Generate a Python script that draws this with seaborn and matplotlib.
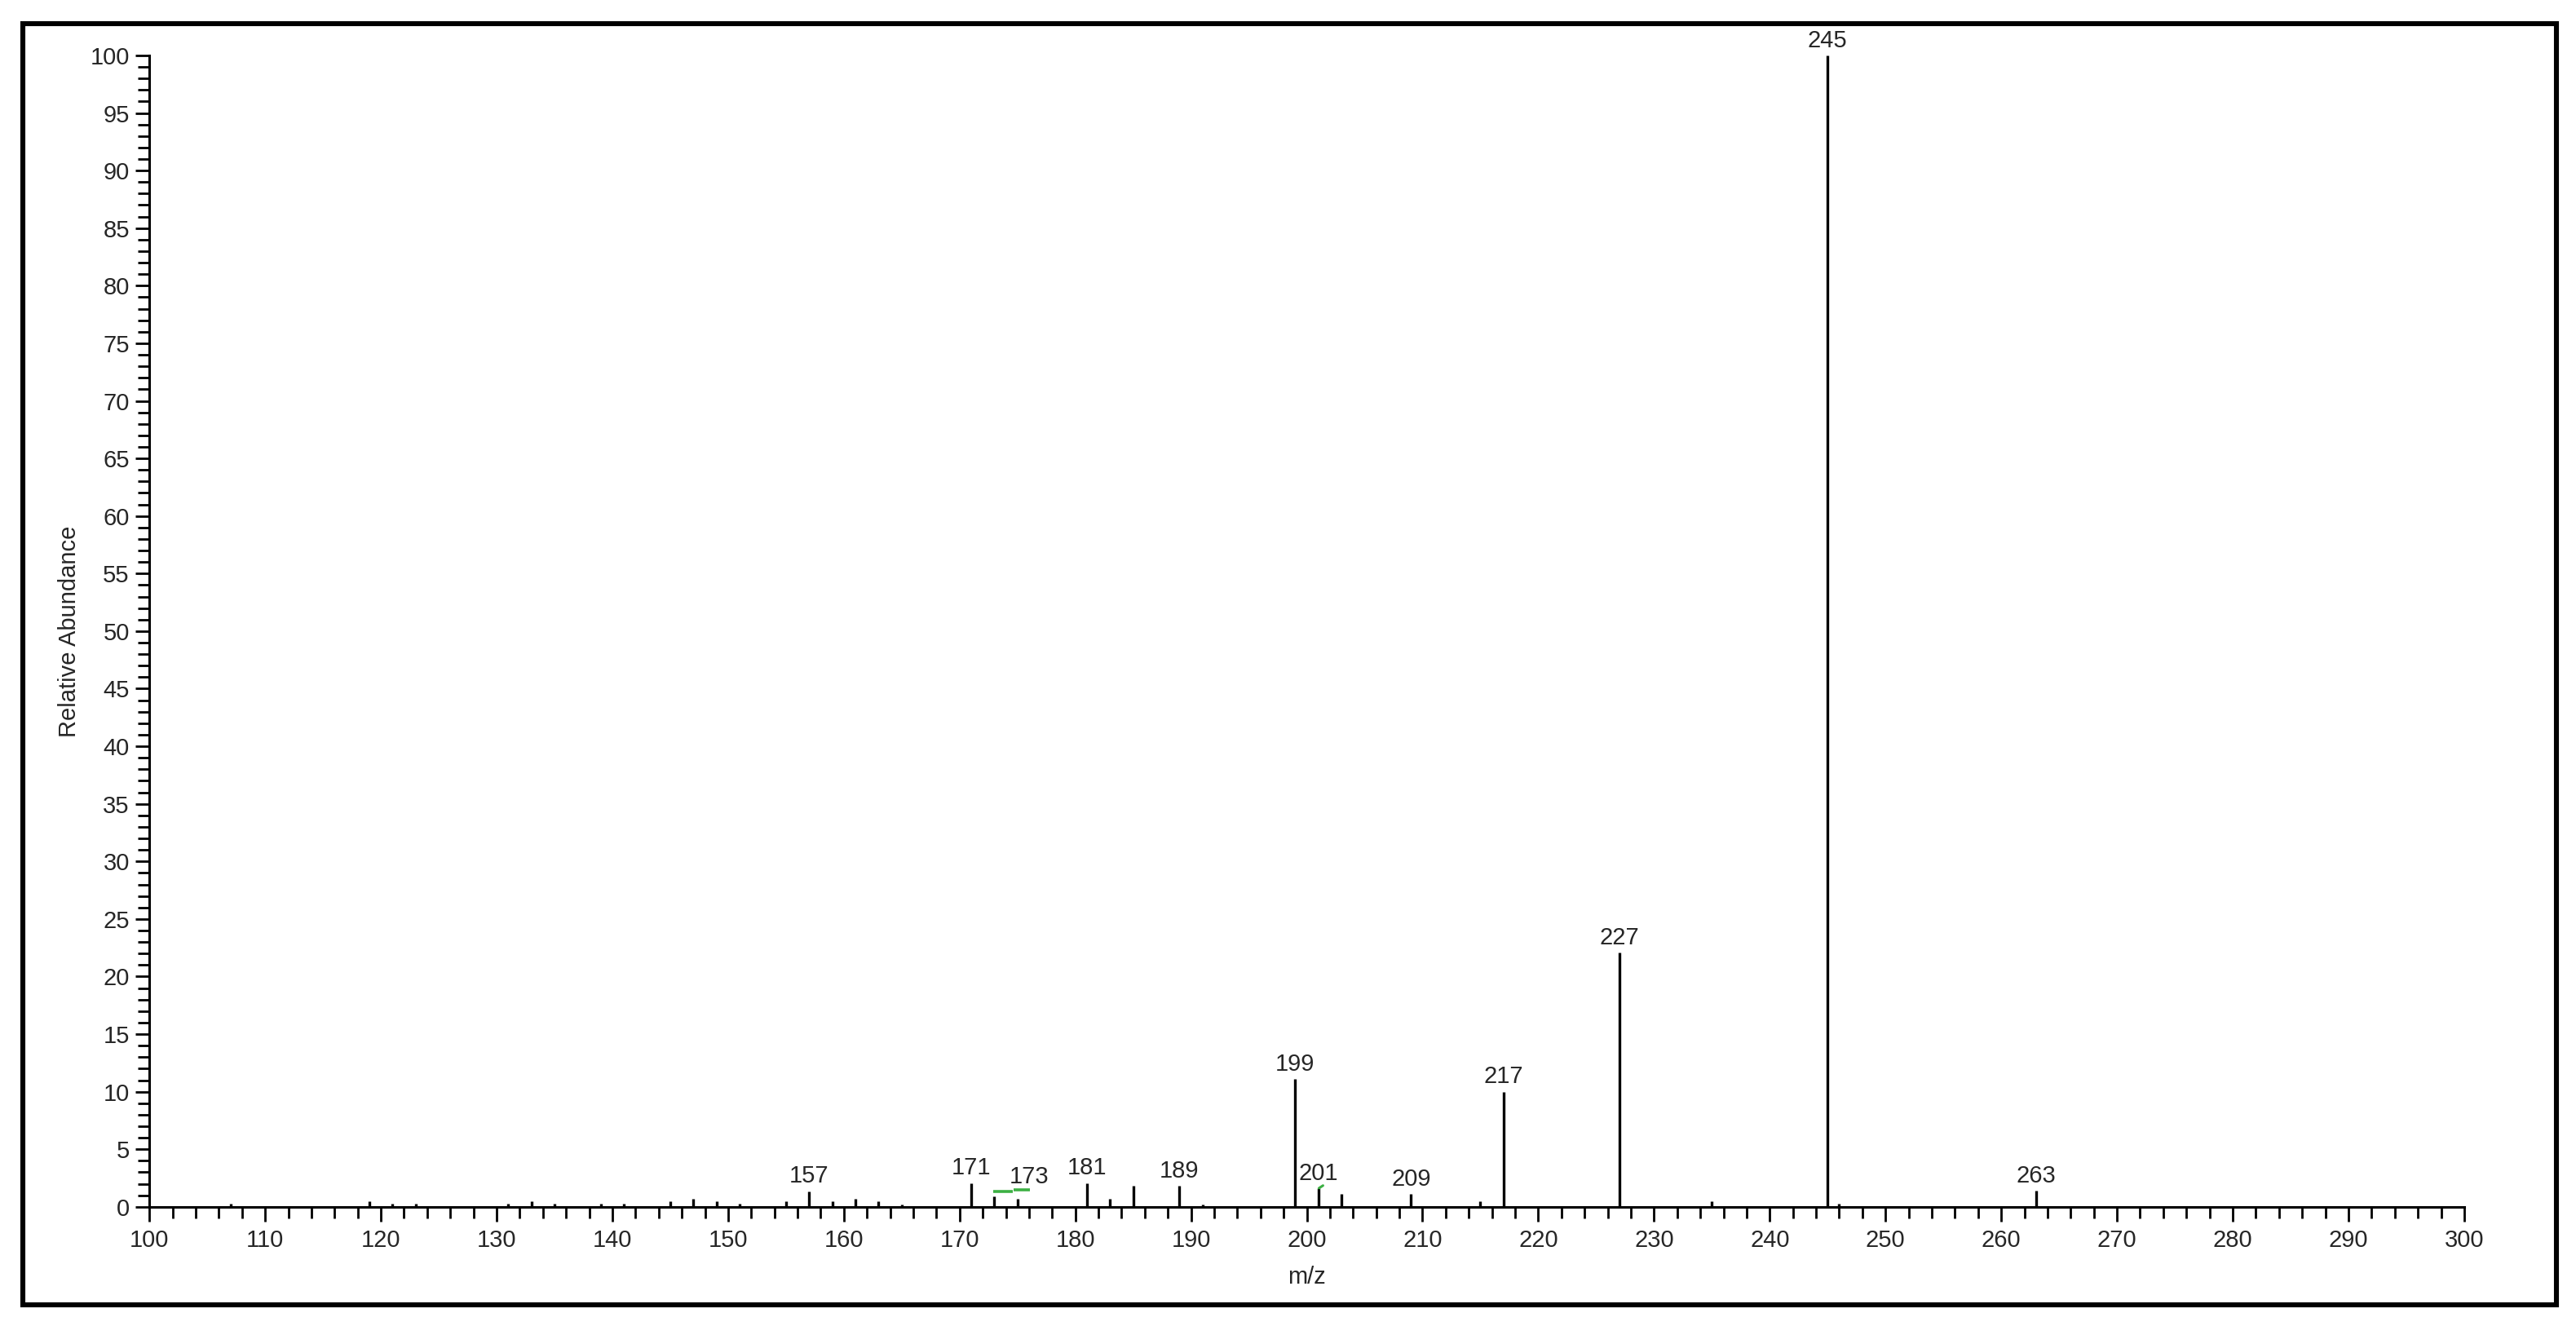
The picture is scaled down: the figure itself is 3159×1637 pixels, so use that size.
import matplotlib
matplotlib.use('Agg')
import matplotlib.pyplot as plt
from matplotlib.ticker import MultipleLocator
from matplotlib.patches import Rectangle
import seaborn as sns

sns.set_style('ticks')
plt.rcParams['font.family'] = ['Liberation Sans', 'DejaVu Sans']

# peaks (m/z, relative abundance)
mz = [107, 119, 121, 123, 131, 133, 135, 139, 141, 145, 147, 149, 151, 155, 157,
      159, 161, 163, 165, 171, 173, 175, 181, 183, 185, 189, 191, 199, 201, 203,
      209, 215, 217, 227, 235, 245, 246, 263]
abundance = [0.27, 0.5, 0.27, 0.27, 0.27, 0.5, 0.27, 0.27, 0.27, 0.5, 0.73, 0.5, 0.27, 0.5, 1.37,
             0.5, 0.71, 0.47, 0.23, 2.07, 0.94, 0.71, 2.07, 0.71, 1.84, 1.84, 0.23, 11.1, 1.6, 1.13,
             1.13, 0.5, 10.0, 22.1, 0.5, 100.0, 0.25, 1.4]

labelled = [157, 171, 181, 189, 199, 201, 209, 217, 227, 245, 263]
label_173 = (176.0, 1.6)   # label of 173 sits off to the right

# green marker segments drawn by the instrument software
green_x0 = [172.9, 174.7]
green_x1 = [174.6, 176.1]
green_y = [1.3, 1.5]

W, H, DPI = 3159, 1637, 200
fig = plt.figure(figsize=(W / DPI, H / DPI), dpi=DPI)
ax = fig.add_axes([0.058, 0.096, 0.8986, 0.8625])

ax.vlines(mz, 0, abundance, color='black', lw=1.2)
ax.hlines(green_y, green_x0, green_x1, color='#3cb043', lw=1.3)
ax.plot([201.05, 201.4], [1.62, 1.85], color='#3cb043', lw=1.1)

peak = dict(zip(mz, abundance))
for m in labelled:
    ax.annotate(str(m), (m, peak[m]), xytext=(0, 1.5), textcoords='offset points',
                ha='center', va='bottom', fontsize=10.5, clip_on=False)
ax.text(label_173[0], label_173[1], '173', ha='center', va='bottom', fontsize=10.5)

ax.set_xlim(100, 300)
ax.set_ylim(0, 100)
ax.xaxis.set_major_locator(MultipleLocator(10))
ax.xaxis.set_minor_locator(MultipleLocator(2))
ax.yaxis.set_major_locator(MultipleLocator(5))
ax.yaxis.set_minor_locator(MultipleLocator(1))
ax.tick_params(which='major', length=6.3, width=1.0, labelsize=10.5, color='black')
ax.tick_params(which='minor', length=5.0, width=1.0, color='black')
ax.tick_params(axis='x', which='major', pad=3.5)
ax.tick_params(axis='y', which='major', pad=2.5)
sns.despine(ax=ax)
for s in ['left', 'bottom']:
    ax.spines[s].set_linewidth(1.1)
    ax.spines[s].set_color('black')

ax.set_xlabel('m/z', fontsize=10.5, labelpad=6)
ax.set_ylabel('Relative Abundance', fontsize=10.5, labelpad=4)

fig.patches.append(Rectangle((0.00886, 0.0229), 0.98339, 0.95937, transform=fig.transFigure,
                             fill=False, lw=2.2, edgecolor='black'))

fig.savefig('out.png', dpi=DPI, facecolor='white')
